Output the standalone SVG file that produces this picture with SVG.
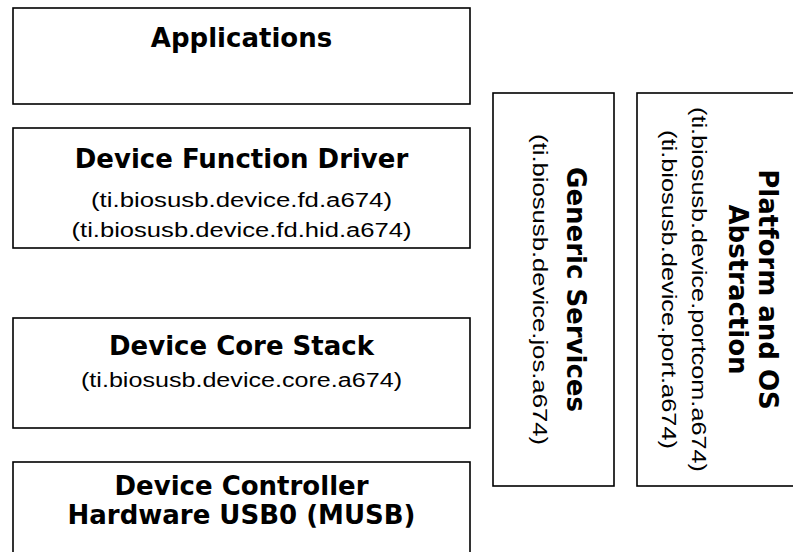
<svg xmlns="http://www.w3.org/2000/svg" width="793" height="552" viewBox="0 0 793 552">
<style>
.box{fill:#fff;stroke:#000;stroke-width:1.6}
.t{font-family:"DejaVu Sans",Verdana,sans-serif;font-weight:bold;font-size:26px;fill:#000;text-anchor:middle}
.s{font-family:"Liberation Sans",Arial,sans-serif;font-size:20px;fill:#000;text-anchor:middle}
</style>
<rect width="793" height="552" fill="#fff"/>
<g id="applications">
<rect class="box" x="13" y="8" width="457" height="96"/>
<text class="t" x="241.5" y="47">Applications</text>
</g>
<g id="device-function-driver">
<rect class="box" x="13" y="128" width="457" height="120"/>
<text class="t" x="241.5" y="168">Device Function Driver</text>
<text class="s" x="241.5" y="207" textLength="301" lengthAdjust="spacingAndGlyphs">(ti.biosusb.device.fd.a674)</text>
<text class="s" x="241.5" y="237" textLength="340" lengthAdjust="spacingAndGlyphs">(ti.biosusb.device.fd.hid.a674)</text>
</g>
<g id="device-core-stack">
<rect class="box" x="13" y="318" width="457" height="110"/>
<text class="t" x="241.5" y="355">Device Core Stack</text>
<text class="s" x="241.5" y="387" textLength="321" lengthAdjust="spacingAndGlyphs">(ti.biosusb.device.core.a674)</text>
</g>
<g id="device-controller">
<rect class="box" x="13" y="462" width="457" height="110"/>
<text class="t" x="241.5" y="495">Device Controller</text>
<text class="t" x="241.5" y="524">Hardware USB0 (MUSB)</text>
</g>
<g id="generic-services">
<rect class="box" x="493" y="93" width="121" height="393"/>
<text class="t" transform="translate(566.5,289.5) rotate(90)">Generic Services</text>
<text class="s" transform="translate(533,289.5) rotate(90)" textLength="311" lengthAdjust="spacingAndGlyphs">(ti.biosusb.device.jos.a674)</text>
</g>
<g id="platform-os-abstraction">
<rect class="box" x="637" y="93" width="170" height="393"/>
<text class="t" transform="translate(759,289.5) rotate(90)">Platform and OS</text>
<text class="t" transform="translate(729,289.5) rotate(90)">Abstraction</text>
<text class="s" transform="translate(692,289.5) rotate(90)" textLength="365" lengthAdjust="spacingAndGlyphs">(ti.biosusb.device.portcom.a674)</text>
<text class="s" transform="translate(662,289.5) rotate(90)" textLength="319" lengthAdjust="spacingAndGlyphs">(ti.biosusb.device.port.a674)</text>
</g>
<g id="connectors"/>
</svg>
